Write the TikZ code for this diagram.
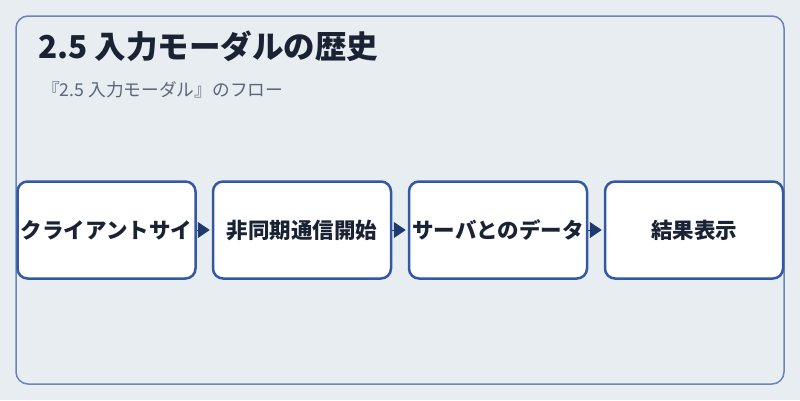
\documentclass[tikz,border=0pt]{standalone}
\usepackage{fontspec}
\setmainfont{Noto Sans CJK JP}
\usetikzlibrary{arrows.meta}
\definecolor{bgcol}{HTML}{E8EDF2}
\definecolor{framecol}{HTML}{6B85B5}
\definecolor{boxcol}{HTML}{3358A4}
\definecolor{arrowcol}{HTML}{1E3A6E}
\definecolor{textcol}{HTML}{1A2333}
\definecolor{subcol}{HTML}{5B6678}
\tikzset{
  frame/.style   = { draw=framecol, line width=1.5pt, rounded corners=12pt },
  stepbox/.style = { draw=boxcol, fill=white, line width=2.5pt, rounded corners=10pt,
                     minimum width=178pt, minimum height=97pt, inner sep=0pt,
                     text=textcol, font=\fontsize{21.5}{24}\selectfont\bfseries },
  flow/.style    = { draw=arrowcol, line width=1pt, shorten >=2pt,
                     -{Triangle[length=12pt,width=16pt]} },
  title/.style   = { anchor=base west, inner sep=0pt, text=textcol,
                     font=\fontsize{31.5}{36}\selectfont\bfseries },
  subtitle/.style = { anchor=base west, inner sep=0pt, text=subcol,
                      font=\fontsize{17.7}{21}\selectfont }
}

\begin{document}
\begin{tikzpicture}[x=1pt,y=-1pt]
  % Background and frame
  \fill[bgcol] (0,0) rectangle (800,400);
  \useasboundingbox (0,0) rectangle (800,400);
  \draw[frame] (16,16) rectangle (784,384);

  % Heading
  \node[title] (head) at (38,58) {2.5 入力モーダルの歴史};
  \node[subtitle] (sub) at (42,96) {『2.5 入力モーダル』のフロー};

  % Draw steps
  \node[stepbox] (s1) at (106.5,230) {クライアントサイ};
  \node[stepbox] (s2) at (302,230)   {非同期通信開始};
  \node[stepbox] (s3) at (498,230)   {サーバとのデータ};
  \node[stepbox] (s4) at (694,230)   {結果表示};

  % Draw arrows
  \draw[flow] (s1) -- (s2);
  \draw[flow] (s2) -- (s3);
  \draw[flow] (s3) -- (s4);
\end{tikzpicture}
\end{document}
